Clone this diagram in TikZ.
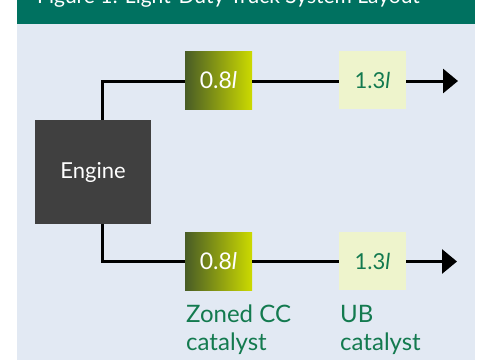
\documentclass[tikz,border=0pt]{standalone}
\usepackage{fontspec}
\setmainfont{Lato}
\usetikzlibrary{arrows.meta}
\definecolor{banner}{RGB}{0,113,96}
\definecolor{panel}{RGB}{226,233,243}
\definecolor{engcol}{RGB}{64,64,64}
\definecolor{txtgreen}{RGB}{19,122,79}
\definecolor{lightbox}{RGB}{238,244,204}
\definecolor{olivedark}{RGB}{72,92,38}
\definecolor{olivelight}{RGB}{204,218,0}
\tikzset{
  conn/.style={line width=3pt, draw=black},
  arr/.style={conn, -{Triangle[length=15pt,width=24pt]}},
  ccbox/.style={minimum width=67pt, minimum height=58pt, inner sep=0pt,
    left color=olivedark, right color=olivelight, text=white, font=\fontsize{23}{26}\selectfont},
  ubbox/.style={minimum width=67pt, minimum height=58pt, inner sep=0pt,
    fill=lightbox, text=txtgreen, font=\fontsize{22}{26}\selectfont},
  lbl/.style={text=txtgreen, align=left, inner sep=0pt, anchor=base west,
    font=\fontsize{24}{28}\selectfont}
}
\begin{document}
\begin{tikzpicture}[x=1pt,y=-1pt]
\useasboundingbox (0,0) rectangle (480,360);
\clip (0,0) rectangle (480,360);
\fill[banner] (17,0) rectangle (475,24);
\fill[panel] (17,24) rectangle (475,360);
\node[text=white, anchor=base west, inner sep=0pt, font=\fontsize{21}{24}\selectfont] (title) at (37,3) {Figure 1: Light-Duty Truck System Layout};
\node[fill=engcol, text=white, minimum width=116pt, minimum height=104pt, inner sep=0pt, font=\fontsize{22}{24}\selectfont] (engine) at (93,172) {Engine};
\node[ccbox] (cc1) at (218.5,80) {0.8\textit{l}};
\node[ubbox] (ub1) at (372.5,80) {1.3\textit{l}};
\node[ccbox] (cc2) at (218.5,261) {0.8\textit{l}};
\node[ubbox] (ub2) at (372.5,261) {1.3\textit{l}};
\coordinate (t) at (102,81);
\coordinate (b) at (102,261.5);
\coordinate (e1) at (458,81);
\coordinate (e2) at (457,261.5);
\draw[conn] (engine.north -| t) -- (t) -- (cc1.west |- t);
\draw[conn] (cc1.east |- t) -- (ub1.west |- t);
\draw[arr] (ub1.east |- t) -- (e1);
\draw[conn] (engine.south -| b) -- (b) -- (cc2.west |- b);
\draw[conn] (cc2.east |- b) -- (ub2.west |- b);
\draw[arr] (ub2.east |- b) -- (e2);
\node[lbl] (l1) at (186,350) {Zoned CC\\catalyst};
\node[lbl] (l2) at (340,350) {UB\\catalyst};
\end{tikzpicture}
\end{document}
